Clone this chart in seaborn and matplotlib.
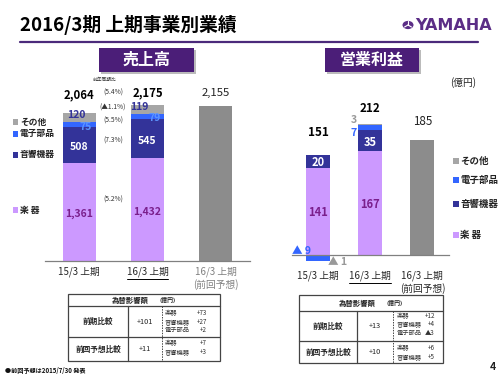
import matplotlib
matplotlib.use("Agg")
import matplotlib.pyplot as plt
import seaborn as sns
import numpy as np
import pandas as pd
from matplotlib.patches import Rectangle, Circle
from matplotlib.lines import Line2D

# ---------------- data ----------------
periods = ["15/3 上期", "16/3 上期", "16/3 上期\n(前回予想)"]
segments = ["楽 器", "音響機器", "電子部品", "その他"]

sales_instr = [1361, 1432, 0]
sales_audio = [508, 545, 0]
sales_elec = [75, 79, 0]
sales_other = [120, 119, 0]
sales_forecast = [0, 0, 2155]
sales_total = [2064, 2175, 2155]
sales_yoy = ["(5.2%)", "(7.3%)", "(5.5%)", "(▲1.1%)", "(5.4%)"]

op_instr = [141, 167, 0]
op_audio = [20, 35, 0]
op_elec = [-9, 7, 0]
op_other = [-1, 3, 0]
op_forecast = [0, 0, 185]
op_total = [151, 212, 185]

fx_rows = ["前期比較", "前回予想比較"]
fx_sales_tot = ["+101", "+11"]
fx_sales_items = [[("楽器", "+73"), ("音響機器", "+27"), ("電子部品", "+2")],
                  [("楽器", "+7"), ("音響機器", "+3")]]
fx_op_tot = ["+13", "+10"]
fx_op_items = [[("楽器", "+12"), ("音響機器", "+4"), ("電子部品", "▲3")],
               [("楽器", "+6"), ("音響機器", "+5")]]

# ---------------- style ----------------
sns.set_style("white")
plt.rcParams['font.family'] = ['Noto Sans CJK JP', 'DejaVu Sans']

C_INSTR = '#CC99FF'
C_AUDIO = '#333399'
C_ELEC = '#3366FF'
C_OTHER = '#A6A6A6'
C_FC = '#8C8C8C'
C_PURP = '#4B1E78'
C_LBL = '#7A1F8C'
C_ELEC_TXT = '#5C95FF'
colors = [C_INSTR, C_AUDIO, C_ELEC, C_OTHER]

W, H = 500, 375
fig = plt.figure(figsize=(5, 3.75), dpi=100)
fig.patch.set_facecolor('white')


def fx(x):
    return x / W


def fy(y):
    return 1 - y / H


def T(x, y, s, **kw):
    kw.setdefault('ha', 'center')
    kw.setdefault('va', 'center')
    return fig.text(fx(x), fy(y), s, **kw)


def L(x0, y0, x1, y1, **kw):
    fig.add_artist(Line2D([fx(x0), fx(x1)], [fy(y0), fy(y1)], **kw))


def R(x0, y0, x1, y1, **kw):
    fig.add_artist(Rectangle((fx(x0), fy(y1)), fx(x1) - fx(x0), fy(y0) - fy(y1),
                             transform=fig.transFigure, **kw))


def stacked(ax, layers, forecast, width):
    arr = np.array(layers, dtype=float)
    pos = np.where(arr > 0, arr, 0).cumsum(axis=0)
    neg = np.where(arr < 0, arr, 0).cumsum(axis=0)
    df = pd.DataFrame({"period": periods, "v": forecast})
    sns.barplot(data=df, x="period", y="v", order=periods, color=C_FC, saturation=1,
                width=width, linewidth=0, errorbar=None, ax=ax)
    for k in range(len(layers) - 1, -1, -1):
        for cum in (pos[k], neg[k]):
            df = pd.DataFrame({"period": periods, "v": cum})
            sns.barplot(data=df, x="period", y="v", order=periods, color=colors[k],
                        saturation=1, width=width, linewidth=0, errorbar=None, ax=ax)
    return pos, neg


def style_axis(ax, direction, pad):
    for s in ['top', 'left', 'right']:
        ax.spines[s].set_visible(False)
    ax.spines['bottom'].set_color('#808080')
    ax.spines['bottom'].set_linewidth(0.9)
    ax.set_xlim(-0.5, 2.5)
    ax.set_xticks([-0.5, 0.5, 1.5, 2.5])
    ax.set_xticklabels([])
    ax.set_xticks([0, 1, 2], minor=True)
    ax.set_xticklabels(periods, minor=True)
    ax.tick_params(axis='x', which='major', direction=direction, length=3.5,
                   color='#808080', width=0.9)
    ax.tick_params(axis='x', which='minor', length=0, pad=pad, labelsize=7)
    ax.set_yticks([])
    ax.set_xlabel("")
    ax.set_ylabel("")
    ax.patch.set_alpha(0)
    labs = ax.get_xticklabels(minor=True)
    labs[2].set_color('#808080')


# ---------------- left chart: sales ----------------
axL = fig.add_axes([fx(45), 114 / H, 205 / W, 165 / H])
posL, negL = stacked(axL, [sales_instr, sales_audio, sales_elec, sales_other],
                     sales_forecast, 0.485)
axL.set_ylim(0, 2300)
style_axis(axL, 'in', 4.2)

layersL = [sales_instr, sales_audio, sales_elec, sales_other]
lbl_colors_L = [C_LBL, 'white', C_ELEC_TXT, C_AUDIO]
offsL = [[(0, -1.5), (0, -2)], [(0, -2), (0, -2)], [(6.5, -2.7), (7.5, -1.6)],
         [(-2.5, 2.3), (-8.5, 2.3)]]
for k, vals in enumerate(layersL):
    for i in range(2):
        mid = posL[k][i] - vals[i] / 2
        axL.annotate(f"{vals[i]:,}", (i, mid), xytext=offsL[k][i], textcoords='offset pixels',
                     ha='center', va='center', fontsize=7.5, fontweight='bold',
                     color=lbl_colors_L[k])
tot_offs_L = [18, 12, 13.5]
for i, t in enumerate(sales_total):
    axL.annotate(f"{t:,}", (i, t), xytext=(0, tot_offs_L[i]), textcoords='offset pixels',
                 ha='center', va='center', fontsize=8.2,
                 fontweight='bold' if i < 2 else 'normal',
                 color='black' if i < 2 else '#222222')

# yoy notes
yoy_y = [200, 141, 121, 108, 93]
for s, y in zip(sales_yoy, yoy_y):
    T(113, y, s, fontsize=4.8, color='#333333')
T(105, 79, "前年同期比", fontsize=3.4, color='#333333')

# left legend
leg_y_L = [210, 155, 134, 122]
for k in range(4):
    R(12.5, leg_y_L[k] - 2.8, 18, leg_y_L[k] + 2.8, facecolor=colors[k], edgecolor='none')
    T(20, leg_y_L[k], segments[k], ha='left', fontsize=6.3, fontweight='bold', color='#222222')

# ---------------- right chart: operating income ----------------
axR = fig.add_axes([fx(292), 107.6 / H, 156.5 / W, 161.2 / H])
posR, negR = stacked(axR, [op_instr, op_audio, op_elec, op_other], op_forecast, 0.46)
axR.set_ylim(-20, 240)
style_axis(axR, 'inout', 11.5)
axR.spines['bottom'].set_position(('data', 0))

layersR = [op_instr, op_audio, op_elec, op_other]
lbl_colors_R = [C_LBL, 'white', C_ELEC, '#999999']
offsR = [[(0, -1.7), (0, -1)], [(0, -1.6), (0, -1.4)], [(-17, 6.8), (-17, -5)],
         [(19, -1.5), (-16, 4.5)]]
for k, vals in enumerate(layersR):
    for i in range(2):
        v = vals[i]
        if v >= 0:
            mid = posR[k][i] - v / 2
            txt = f"{v}"
        else:
            mid = negR[k][i] - v / 2
            txt = f"▲ {abs(v)}"
        axR.annotate(txt, (i, mid), xytext=offsR[k][i], textcoords='offset pixels',
                     ha='center', va='center', fontsize=8 if k < 2 else 7.6,
                     fontweight='bold', color=lbl_colors_R[k])
tot_offs_R = [23, 14.6, 19]
for i, t in enumerate(op_total):
    top = posR[-1][i] + op_forecast[i]
    axR.annotate(f"{t}", (i, top), xytext=(0, tot_offs_R[i]), textcoords='offset pixels',
                 ha='center', va='center', fontsize=8.4,
                 fontweight='bold' if i < 2 else 'normal',
                 color='black' if i < 2 else '#222222')
T(463, 83, "(億円)", fontsize=7, color='#222222')

leg_y_R = [235, 204, 180, 161]
for k in range(4):
    R(453, leg_y_R[k] - 3, 459, leg_y_R[k] + 3, facecolor=colors[k], edgecolor='none')
    T(460.5, leg_y_R[k], segments[k], ha='left', fontsize=6.8, fontweight='bold', color='#222222')

# ---------------- header ----------------
T(20, 25, "2016/3期 上期事業別業績", ha='left', fontsize=13.5, fontweight='bold', color='black')
L(20, 42, 478, 42, color='#4B2A7B', lw=1.6)
fig.add_artist(Circle((fx(408), fy(25)), 5.5 / W, transform=fig.transFigure,
                      facecolor='#5B2D86', edgecolor='none'))
for ang in (90, 210, 330):
    a = np.deg2rad(ang)
    L(408, 25, 408 + 4 * np.cos(a), 25 - 4 * np.sin(a), color='white', lw=0.8)
T(415, 25, "YAMAHA", ha='left', fontsize=11.5, fontweight='bold', color='#5B2D86',
  family=['Liberation Sans Narrow', 'DejaVu Sans'])

for (x0, x1, s) in [(99, 194, "売上高"), (325, 419, "営業利益")]:
    R(x0 + 2, 50, x1 + 2, 74, facecolor='#BBBBBB', edgecolor='none')
    R(x0, 48, x1, 72, facecolor=C_PURP, edgecolor='none')
    T((x0 + x1) / 2, 60, s, fontsize=11.5, fontweight='bold', color='white')


# ---------------- tables ----------------
def table(x0, x1, y0, yh, yr, y1, c1, c2, tots, items, item_y, name_x, val_x):
    lc = '#444444'
    R(x0, y0, x1, y1, facecolor='none', edgecolor=lc, lw=0.9)
    L(x0, yh, x1, yh, color=lc, lw=0.9)
    L(x0, yr, x1, yr, color=lc, lw=0.9)
    L(c1, yh, c1, y1, color=lc, lw=0.9)
    L(c2, yh, c2, y1, color=lc, lw=0.7, ls=(0, (1.5, 1.2)))
    hy = (y0 + yh) / 2
    T((x0 + x1) / 2 - 14, hy, "為替影響額", fontsize=5.3, fontweight='bold', color='#222222')
    T((x0 + x1) / 2 + 24, hy, "(億円)", fontsize=4.2, fontweight='bold', color='#222222')
    rows_y = [(yh + yr) / 2, (yr + y1) / 2]
    for r in range(2):
        T((x0 + c1) / 2, rows_y[r], fx_rows[r], fontsize=5.5, fontweight='bold',
          color='#222222')
        T((c1 + c2) / 2, rows_y[r], tots[r], fontsize=5.3, color='#222222')
        for (nm, v), yy in zip(items[r], item_y[r]):
            T(name_x, yy, nm, ha='left', fontsize=4.5, color='#333333')
            T(val_x, yy, v, ha='right', fontsize=4.5, color='#333333')


table(68, 220, 294, 306, 337, 361, 128, 162, fx_sales_tot, fx_sales_items,
      [[313, 322, 330], [343, 352]], 165, 207)
table(299, 443, 295, 311, 341, 363, 357, 393, fx_op_tot, fx_op_items,
      [[316, 324.5, 333], [348, 357]], 397, 435)

T(5, 370, "●前回予想は2015/7/30 発表", ha='left', fontsize=4.4, fontweight='bold', color='#111111')
T(493, 367, "4", fontsize=7.5, fontweight='bold', color='#222222')

# underline the current-period labels
fig.canvas.draw()
renderer = fig.canvas.get_renderer()
for ax in (axL, axR):
    lab = ax.get_xticklabels(minor=True)[1]
    bb = lab.get_window_extent(renderer).transformed(fig.transFigure.inverted())
    fig.add_artist(Line2D([bb.x0, bb.x1], [bb.y0 - 0.004, bb.y0 - 0.004],
                          transform=fig.transFigure, color='black', lw=0.7))

fig.savefig("out.png", dpi=100, facecolor='white')
